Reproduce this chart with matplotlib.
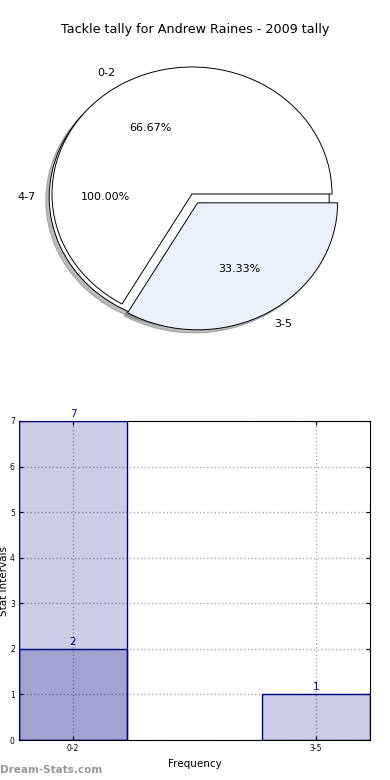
import matplotlib
matplotlib.use("Agg")
import matplotlib.pyplot as plt
from matplotlib.patches import Shadow

title = "Tackle tally for Andrew Raines - 2009 tally"
pie_labels = ["0-2", "3-5"]
pie_values = [2, 1]
pie_colors = ["#ffffff", "#ebf1fc"]
outer_label = ["4-7"]
outer_values = [7]

bar_labels = ["0-2", "0-2", "3-5"]
bar_values = [7, 2, 1]
tick_labels = ["0-2", "3-5"]

fig = plt.figure(figsize=(3.9, 7.8), dpi=100)
fig.text(0.5, 1 - 30 / 780, title, ha="center", va="center", fontsize=9.2)

# Pie
axp = fig.add_axes([17 / 390, 1 - 352.75 / 780, 350 / 390, 317.5 / 780])
wp = dict(edgecolor="black", linewidth=0.7)
outer_w, _, _ = axp.pie(outer_values, labels=outer_label, colors=["white"], autopct="%.2f%%",
                        shadow=False, center=(-0.02, -0.025), wedgeprops=wp,
                        textprops=dict(fontsize=8))
axp.add_patch(Shadow(outer_w[0], -0.018, -0.018, facecolor="#666666", edgecolor="#666666", alpha=0.45))
wedges, _, _ = axp.pie(pie_values, labels=pie_labels, colors=pie_colors, autopct="%.2f%%",
                       explode=[0, 0.08], shadow=False, wedgeprops=wp,
                       textprops=dict(fontsize=8))
axp.add_patch(Shadow(wedges[1], -0.018, -0.018, facecolor="#666666", edgecolor="#666666", alpha=0.45))
axp.set_aspect("auto")
axp.set_xlim(-1.25, 1.25)
axp.set_ylim(-1.25, 1.25)
axp.axis("off")

# Bars
axb = fig.add_axes([19 / 390, 40 / 780, 351 / 390, 319 / 780])
pos = {lab: i for i, lab in enumerate(tick_labels)}
for lab, v in zip(bar_labels, bar_values):
    x = pos[lab]
    axb.bar(x, v, width=0.444, color="navy", alpha=0.2, zorder=2)
    axb.bar(x, v, width=0.444, facecolor="none", edgecolor="navy", linewidth=1.0, zorder=3)
    axb.annotate(str(v), (x, v), xytext=(0, 1.5), textcoords="offset points",
                 ha="center", va="bottom", color="navy", fontsize=7.5, zorder=4,
                 annotation_clip=False)
axb.set_xlim(-0.222, 1.222)
axb.set_ylim(0, 7)
axb.set_xticks(range(len(tick_labels)))
axb.set_xticklabels(tick_labels)
axb.set_yticks(range(0, 8))
axb.tick_params(direction="in", top=True, right=True, labelsize=5.5, length=3, pad=3)
axb.grid(True, linestyle=":", color="#aaaaaa", linewidth=1.0, zorder=1)
axb.set_axisbelow(True)
axb.set_xlabel("Frequency", fontsize=7.5, labelpad=4)
axb.set_ylabel("Stat Intervals", fontsize=7.5, labelpad=1)
for s in axb.spines.values():
    s.set_linewidth(0.8)

fig.text(0.0, 1 - 770 / 780, "Dream-Stats.com", ha="left", va="center",
         fontsize=7.5, color="#999999", fontweight="bold")

fig.savefig("out.png", dpi=100)
